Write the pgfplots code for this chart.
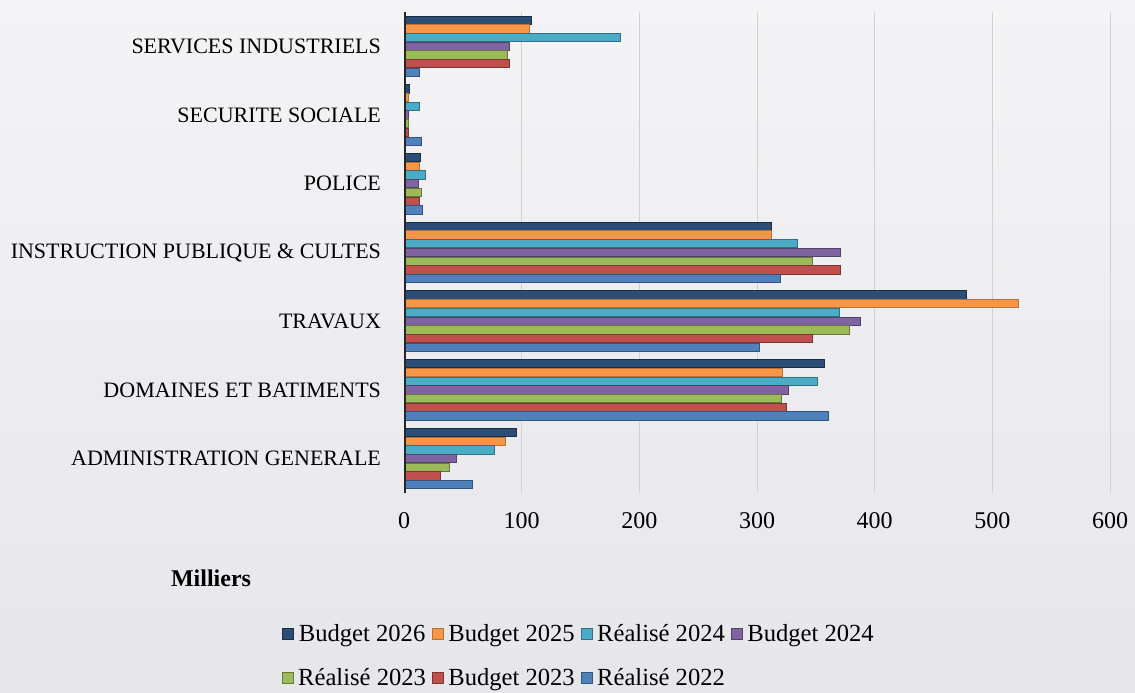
\documentclass[border=0pt]{standalone}
\usepackage{pgfplots}
\pgfplotsset{compat=1.18}
\usepackage{fontspec}
\setmainfont{Liberation Serif}

\definecolor{bgTop}{HTML}{F4F4F7}
\definecolor{bgBot}{HTML}{E6E6EB}
\definecolor{bud26}{HTML}{2C4D75}
\definecolor{bud25}{HTML}{F79646}
\definecolor{rea24}{HTML}{4BACC6}
\definecolor{bud24}{HTML}{8064A2}
\definecolor{rea23}{HTML}{9BBB59}
\definecolor{bud23}{HTML}{C0504D}
\definecolor{rea22}{HTML}{4F81BD}

% y: 0 = ADMINISTRATION GENERALE ... 6 = SERVICES INDUSTRIELS (values in milliers)
\begin{document}
\begin{tikzpicture}
\path[use as bounding box, top color=bgTop, bottom color=bgBot] (0,0) rectangle (567.5pt,346pt);
\begin{axis}[
  at={(202pt,99.5pt)}, anchor=south west,
  scale only axis,
  width=353pt, height=240.5pt,
  xbar,
  bar width=0.12,
  xmin=0, xmax=600,
  ymin=-0.5, ymax=6.5,
  xtick={0,100,...,600},
  ytick={0,...,6},
  yticklabels={ADMINISTRATION GENERALE, DOMAINES ET BATIMENTS, TRAVAUX,
    INSTRUCTION PUBLIQUE \& CULTES, POLICE, SECURITE SOCIALE, SERVICES INDUSTRIELS},
  major tick length=0pt,
  xmajorgrids,
  major grid style={line width=0.4pt, draw=black!18},
  axis x line*=bottom,
  axis y line*=left,
  x axis line style={draw=none},
  y axis line style={draw=none},
  /pgf/number format/assume math mode=true,
  xticklabel style={font=\fontsize{12}{14}\selectfont, yshift=-6pt},
  yticklabel style={font=\fontsize{11}{13}\selectfont, xshift=-8pt},
  legend columns=4,
  legend style={
    at={(0.249,-0.255)}, anchor=north,
    draw=none, fill=none,
    font=\fontsize{12.3}{14}\selectfont,
    row sep=8pt,
    /tikz/every even column/.append style={column sep=1pt},
  },
  legend image code/.code={\draw[#1, line width=0.6pt] (0pt,-2.8pt) rectangle (5.6pt,2.8pt);},
  every axis plot/.append style={line width=0.5pt},
]
\addplot[fill=bud26, draw=bud26!60!black, bar shift=0.381] coordinates {
  (96,0) (357,1) (478,2) (312,3) (14,4) (5,5) (108,6)
};
\addplot[fill=bud25, draw=bud25!75!black, bar shift=0.254] coordinates {
  (86,0) (322,1) (522,2) (312,3) (13,4) (4,5) (107,6)
};
\addplot[fill=rea24, draw=rea24!65!black, bar shift=0.127] coordinates {
  (77,0) (351,1) (370,2) (334,3) (18,4) (13,5) (184,6)
};
\addplot[fill=bud24, draw=bud24!65!black, bar shift=0] coordinates {
  (45,0) (327,1) (388,2) (371,3) (12,4) (4,5) (90,6)
};
\addplot[fill=rea23, draw=rea23!65!black, bar shift=-0.127] coordinates {
  (39,0) (321,1) (379,2) (347,3) (15,4) (4,5) (88,6)
};
\addplot[fill=bud23, draw=bud23!65!black, bar shift=-0.254] coordinates {
  (31,0) (325,1) (347,2) (371,3) (13,4) (4,5) (90,6)
};
\addplot[fill=rea22, draw=rea22!65!black, bar shift=-0.381] coordinates {
  (58,0) (361,1) (302,2) (320,3) (16,4) (15,5) (13,6)
};
\legend{Budget 2026, Budget 2025, Réalisé 2024, Budget 2024,
  Réalisé 2023, Budget 2023, Réalisé 2022}
\draw[black!85, line width=1.5pt] (axis cs:0,-0.5) -- (axis cs:0,6.5);
\end{axis}
\node[font=\bfseries\fontsize{12}{14}\selectfont] at (105.5pt,57pt) {Milliers};
\end{tikzpicture}
\end{document}
